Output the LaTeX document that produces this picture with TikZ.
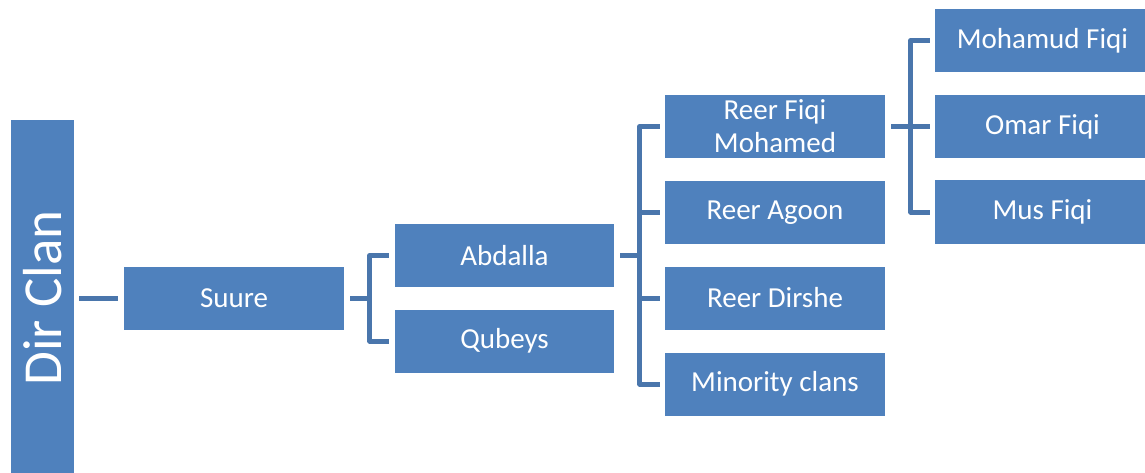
\documentclass[tikz,border=0pt]{standalone}
\usepackage{fontspec}
\setmainfont{Carlito}
\definecolor{boxblue}{HTML}{4F81BD}
\definecolor{linkblue}{HTML}{4A76AC}
\begin{document}
\begin{tikzpicture}[x=1pt,y=-1pt,
  box/.style={fill=boxblue,draw=none,text=white,inner sep=0pt,
    minimum width=220pt,minimum height=63pt,align=center,
    font=\fontsize{29}{33}\selectfont},
  conn/.style={draw=linkblue,line width=5pt,line join=round}]
\useasboundingbox (0,0) rectangle (1145,473);
\clip (0,0) rectangle (1145,473);
% nodes
\node[box,minimum width=63pt,minimum height=356pt] (dir) at (42.5,298)
  {\rotatebox{90}{\fontsize{55}{60}\selectfont Dir Clan}};
\node[box] (suure) at (234,298) {Suure};
\node[box,minimum width=219pt] (abdalla) at (504.5,255.5) {Abdalla};
\node[box,minimum width=219pt] (qubeys) at (504.5,341) {Qubeys};
\node[box] (fiqi) at (775,126.5) {Reer Fiqi\\Mohamed};
\node[box] (agoon) at (775,212.5) {Reer Agoon};
\node[box] (dirshe) at (775,298) {Reer Dirshe};
\node[box] (minority) at (775,384) {Minority clans};
\node[box,minimum width=215pt] (mohamud) at (1042.5,40.5) {Mohamud Fiqi};
\node[box,minimum width=215pt] (omar) at (1042.5,126.5) {Omar Fiqi};
\node[box,minimum width=215pt] (mus) at (1042.5,212) {Mus Fiqi};
% connectors
\draw[conn] ([xshift=5pt]dir.east) -- ([xshift=-6pt]suure.west);
\draw[conn] ([xshift=6pt]suure.east) -- ++(20,0);
\draw[conn] ([xshift=-6pt]abdalla.west) -- ++(-19,0) |- ([xshift=-6pt]qubeys.west);
\draw[conn] ([xshift=6pt]abdalla.east) -- ++(21,0);
\draw[conn] ([xshift=-5pt]fiqi.west) -- ++(-20,0) |- ([xshift=-5pt]minority.west);
\draw[conn] ([xshift=-5pt]agoon.west) -- ++(-20,0);
\draw[conn] ([xshift=-5pt]dirshe.west) -- ++(-20,0);
\draw[conn] ([xshift=6pt]fiqi.east) -- ++(20,0);
\draw[conn] ([xshift=-5pt]mohamud.west) -- ++(-19,0) |- ([xshift=-5pt]mus.west);
\draw[conn] ([xshift=-5pt]omar.west) -- ++(-19,0);
\end{tikzpicture}
\end{document}
